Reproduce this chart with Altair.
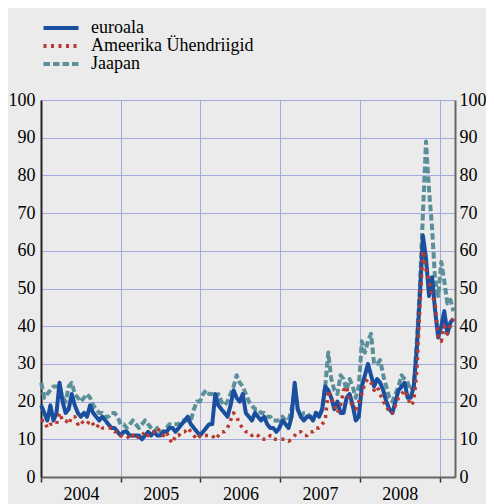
import altair as alt
import pandas as pd

# biweekly observations, Jan 2004 - Mar 2009
dates = pd.date_range("2004-01-02", periods=136, freq="14D").strftime("%Y-%m-%d").tolist()

series = ["euroala", "Ameerika Ühendriigid", "Jaapan"]
colors = ["#1A4E9F", "#B83A2E", "#5B8F9A"]
dashes = [[1, 0], [3, 4.5], [6.5, 3]]

euro = [19, 17, 15, 19, 15, 17, 25, 20, 17, 18, 22, 19, 17, 16, 17, 16, 19, 17, 16, 15, 16, 15, 14, 13, 13, 12,
        11, 12, 12, 11, 11, 11, 11, 10, 11, 12, 11, 12, 11, 11, 12, 12, 13, 13, 12, 13, 14, 15, 16, 14, 13, 12,
        11, 12, 13, 14, 14, 22, 19, 18, 17, 16, 19, 23, 21, 20, 22, 17, 16, 15, 17, 16, 15, 16, 14, 13, 13, 12,
        13, 15, 14, 13, 16, 25, 18, 16, 15, 16, 16, 15, 17, 16, 18, 24, 23, 21, 18, 20, 17, 17, 21, 22, 19, 15,
        16, 24, 27, 30, 27, 24, 26, 25, 23, 20, 18, 17, 20, 23, 24, 25, 21, 21, 24, 34, 48, 64, 58, 48, 53, 44,
        37, 40, 44, 38, 41, 42]

usa = [15, 15, 13, 14, 14, 14, 17, 15, 15, 14, 16, 16, 14, 15, 14, 14, 15, 14, 13, 14, 13, 13, 13, 13, 12, 12,
       11, 11, 11, 10, 11, 10, 11, 11, 12, 11, 12, 12, 13, 12, 11, 12, 10, 9, 11, 11, 12, 12, 13, 12, 11, 10,
       11, 11, 11, 11, 11, 10, 11, 12, 12, 13, 15, 17, 16, 14, 13, 12, 12, 11, 11.5, 11, 10, 10, 10, 11, 10, 10,
       10, 10, 10, 9.5, 10, 11, 12, 12, 11, 11, 12, 12, 13, 13, 14, 15, 23, 21, 19, 17, 19, 23, 24, 20, 19, 18,
       20, 22, 25, 26, 25, 23, 24, 22, 20, 19, 17, 17, 19, 21, 22, 23, 21, 19, 20, 28, 45, 60, 55, 52, 48, 46,
       37, 36, 40, 38, 40, 42]

japan = [25, 21, 22, 23, 24, 24, 24, 21, 20, 24, 25, 22, 21, 20, 21, 22, 21, 19, 18, 17, 17, 16, 16, 17, 17, 16,
         14, 14, 13, 14, 15, 14, 13, 14, 15, 14, 13, 12, 13, 12, 12, 13, 14, 14, 14, 14, 15, 15, 15, 15, 18, 20,
         20, 22, 23, 22, 22, 21, 22, 20, 19, 20, 22, 24, 27, 25, 24, 22, 20, 19, 18, 18, 17, 17, 16, 16, 15, 15,
         15, 16, 15, 15, 18, 23, 18, 16, 17, 17, 16, 17, 17, 16, 18, 24, 33, 26, 23, 22, 27, 26, 23, 26, 24, 21,
         24, 36, 33, 36, 38, 30, 30, 31, 27, 24, 21, 20, 22, 24, 27, 26, 25, 23, 24, 36, 50, 70, 89, 76, 66, 52,
         48, 57, 52, 46, 47, 44]

years = [2004, 2005, 2006, 2007, 2008, 2009]
y_ticks = list(range(0, 101, 10))

rows = []
for name, vals in zip(series, [euro, usa, japan]):
    for d, v in zip(dates, vals):
        rows.append({"date": d, "value": v, "series": name})
df = pd.DataFrame(rows)

FONT = "Liberation Serif"
GRID = "#A3AAE0"

x_enc = alt.X(
    "date:T",
    title=None,
    scale=alt.Scale(domain=[alt.DateTime(year=2004, month=1, date=1),
                            alt.DateTime(year=2009, month=3, date=13)]),
    axis=alt.Axis(
        values=[alt.DateTime(year=y, month=1, date=1) for y in years],
        format="%Y",
        labelExpr="datum.label == '2009' ? '' : datum.label",
        labelOffset=40,
        labelFlush=False,
        labelPadding=3,
        tickSize=5,
        tickColor="#333333",
        tickWidth=1.5,
        domainColor="#666666",
        domainWidth=2,
        grid=True,
        gridColor=GRID,
        gridWidth=1,
        labelFont=FONT,
        labelFontSize=18,
        labelColor="#000000",
    ),
)

left_axis = alt.Axis(
    values=y_ticks, grid=True, gridColor=GRID, gridWidth=1, tickSize=0,
    labelPadding=6, domainColor="#222222", domainWidth=2,
    labelFont=FONT, labelFontSize=18, labelColor="#000000", orient="left",
)
right_axis = alt.Axis(
    values=y_ticks, grid=False, tickSize=0, labelPadding=4,
    domainColor="#666666", domainWidth=2,
    labelFont=FONT, labelFontSize=18, labelColor="#000000", orient="right",
)

y_scale = alt.Scale(domain=[0, 100])
color_enc = alt.Color("series:N", scale=alt.Scale(domain=series, range=colors), title=None)
dash_enc = alt.StrokeDash("series:N", scale=alt.Scale(domain=series, range=dashes), title=None)


def line_layer(name, width, axis):
    return alt.Chart(df).transform_filter(alt.datum.series == name).mark_line(
        strokeWidth=width, strokeJoin="round"
    ).encode(
        x=x_enc,
        y=alt.Y("value:Q", scale=y_scale, title=None, axis=axis),
        color=color_enc,
        strokeDash=dash_enc,
    )


jp = line_layer("Jaapan", 4, left_axis)
eu = line_layer("euroala", 4, None)
us = line_layer("Ameerika Ühendriigid", 3.5, None)

right = alt.Chart(df).transform_filter(alt.datum.series == "euroala").mark_line(opacity=0).encode(
    x=x_enc,
    y=alt.Y("value:Q", scale=y_scale, title=None, axis=right_axis),
)

chart = alt.layer(jp, eu, us, right).resolve_axis(y="independent").properties(
    width=414, height=377,
    autosize="none",
    padding={"left": 33, "top": 92, "right": 31, "bottom": 30},
    background="#EBEBEB",
).configure_view(stroke=None).configure_legend(
    orient="none", legendX=11, legendY=-81,
    labelFont=FONT, labelFontSize=18, labelColor="#000000", labelLimit=0,
    symbolType="M-5,0H5", symbolSize=49, symbolStrokeWidth=4,
    labelOffset=21, rowPadding=-0.5,
)

chart.save("out.html", embed_options={"renderer": "svg", "actions": False})
